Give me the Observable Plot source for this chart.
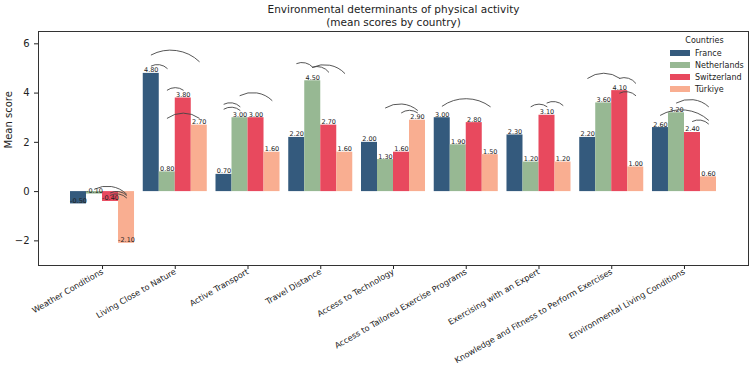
<!DOCTYPE html>
<html>
<head>
<meta charset="utf-8">
<script src="https://cdn.jsdelivr.net/npm/d3@7"></script>
<script src="https://cdn.jsdelivr.net/npm/@observablehq/plot@0.6"></script>
<style>
  body { margin: 0; background: #fff; font-family: "DejaVu Sans", sans-serif; }
  #chart { position: relative; width: 750px; height: 366px; }
  #chart svg g[aria-label^="x-axis"] text { font-size: 8.2px; }
  .legend { position: absolute; left: 663px; top: 34px; width: 83px; padding: 2px 0 3px 0;
            font-size: 8px; color: #222; background: rgba(255,255,255,0.85); }
  .legend .lt { text-align: center; margin-bottom: 2px; }
  .legend .row { display: flex; align-items: center; height: 12px; }
  .legend .sw { display: inline-block; width: 20px; height: 6px; margin: 0 5px 0 7px; }
</style>
</head>
<body>
<div id="chart"></div>
<script>
// Categories on the x axis
const categories = [
  "Weather Conditions",
  "Living Close to Nature",
  "Active Transport",
  "Travel Distance",
  "Access to Technology",
  "Access to Tailored Exercise Programs",
  "Exercising with an Expert",
  "Knowledge and Fitness to Perform Exercises",
  "Environmental Living Conditions"
];

// Series
const countries = ["France", "Netherlands", "Switzerland", "Türkiye"];
const colors = ["#345a7d", "#97b893", "#e8495e", "#f9ae91"];

// Mean scores, one value per category
const france      = [-0.50, 4.80, 0.70, 2.20, 2.00, 3.00, 2.30, 2.20, 2.60];
const netherlands = [-0.10, 0.80, 3.00, 4.50, 1.30, 1.90, 1.20, 3.60, 3.20];
const switzerland = [-0.40, 3.80, 3.00, 2.70, 1.60, 2.80, 3.10, 4.10, 2.40];
const turkiye     = [-2.10, 2.70, 1.60, 1.60, 2.90, 1.50, 1.20, 1.00, 0.60];

const yTicks = [-2, 0, 2, 4, 6];

// Pairwise comparison arcs: category index, the two countries, and the
// score level at each end of the arc
const bracketCat  = [0, 0, 0, 1, 1, 1, 1, 2, 2, 2, 3, 3, 3, 4, 4, 5, 6, 6, 7, 7, 7, 8, 8, 8];
const bracketFrom = ["Netherlands", "Switzerland", "Switzerland",
                     "France", "France", "Netherlands", "Netherlands",
                     "France", "France", "Netherlands",
                     "France", "Netherlands", "Netherlands",
                     "Netherlands", "Switzerland",
                     "France",
                     "Netherlands", "Switzerland",
                     "France", "Switzerland", "Switzerland",
                     "Netherlands", "France", "Switzerland"];
const bracketTo   = ["Türkiye", "Türkiye", "Türkiye",
                     "Türkiye", "Netherlands", "Switzerland", "Türkiye",
                     "Netherlands", "Netherlands", "Türkiye",
                     "Netherlands", "Switzerland", "Türkiye",
                     "Türkiye", "Türkiye",
                     "Türkiye",
                     "Switzerland", "Türkiye",
                     "Switzerland", "Türkiye", "Türkiye",
                     "Türkiye", "Türkiye", "Türkiye"];
const bracketY1   = [0.10, -0.05, -0.15,
                     5.55, 5.10, 4.12, 2.98,
                     3.35, 3.55, 3.90,
                     5.20, 5.05, 5.05,
                     3.40, 3.20,
                     3.47,
                     3.45, 3.60,
                     4.60, 4.60, 4.00,
                     3.60, 3.10, 2.85];
const bracketY2   = [-0.10, -0.15, -0.25,
                     5.28, 5.00, 4.12, 2.98,
                     3.30, 3.45, 3.70,
                     5.05, 4.85, 4.80,
                     3.30, 3.20,
                     3.45,
                     3.45, 3.50,
                     4.60, 4.40, 3.90,
                     3.45, 2.90, 2.75];

// Layout of grouped bars on a numeric axis: category i sits at x = i
const barWidth = 0.22;
const seriesValues = [france, netherlands, switzerland, turkiye];
const offset = (country) => (countries.indexOf(country) - (countries.length - 1) / 2) * barWidth;

const rows = [];
categories.forEach((cat, i) => {
  countries.forEach((country, c) => {
    rows.push({cat: i, country, value: seriesValues[c][i], x: i + offset(country)});
  });
});

const brackets = bracketCat.map((cat, k) => ({
  xa: cat + offset(bracketFrom[k]),
  xb: cat + offset(bracketTo[k]),
  ya: bracketY1[k],
  yb: bracketY2[k]
}));

const chart = Plot.plot({
  width: 750,
  height: 366,
  marginTop: 31,
  marginLeft: 38,
  marginRight: 2,
  marginBottom: 101,
  style: {fontFamily: "DejaVu Sans, sans-serif", fontSize: "10px", color: "#222", background: "white"},
  x: {
    domain: [-0.88, categories.length - 1 + 0.88],
    ticks: d3.range(categories.length),
    tickFormat: (i) => categories[i],
    tickRotate: -30,
    tickSize: 4,
    tickPadding: 1.5,
    label: null
  },
  y: {
    domain: [-3, 6.5],
    ticks: yTicks,
    tickSize: 4,
    label: null
  },
  color: {domain: countries, range: colors},
  marks: [
    Plot.rect(rows, {
      x1: (d) => d.x - barWidth / 2,
      x2: (d) => d.x + barWidth / 2,
      y1: 0,
      y2: "value",
      fill: "country"
    }),
    Plot.text(rows, {
      x: "x",
      y: "value",
      text: (d) => d.value.toFixed(2),
      fontSize: 6.5,
      lineAnchor: "bottom",
      dy: -1,
      fill: "#222"
    }),
    Plot.arrow(brackets, {
      x1: "xa", y1: "ya", x2: "xb", y2: "yb",
      bend: 36,
      headLength: 0,
      stroke: "#444",
      strokeWidth: 0.9
    }),
    Plot.frame({stroke: "#333", strokeWidth: 1}),
    Plot.text(["Mean score"], {
      text: (d) => d, frameAnchor: "left", rotate: -90, dx: -30, fontSize: 10, fill: "#222"
    }),
    Plot.text(["Environmental determinants of physical activity"], {
      text: (d) => d, frameAnchor: "top", dy: -26, fontSize: 10.5, fill: "#222"
    }),
    Plot.text(["(mean scores by country)"], {
      text: (d) => d, frameAnchor: "top", dy: -13, fontSize: 10.5, fill: "#222"
    })
  ]
});

const host = document.getElementById("chart");
host.appendChild(chart);

// Legend inside the upper-right corner of the plot
const legend = document.createElement("div");
legend.className = "legend";
legend.innerHTML = `<div class="lt">Countries</div>` +
  countries.map((c, i) => `<div class="row"><span class="sw" style="background:${colors[i]}"></span>${c}</div>`).join("");
host.appendChild(legend);
</script>
</body>
</html>
